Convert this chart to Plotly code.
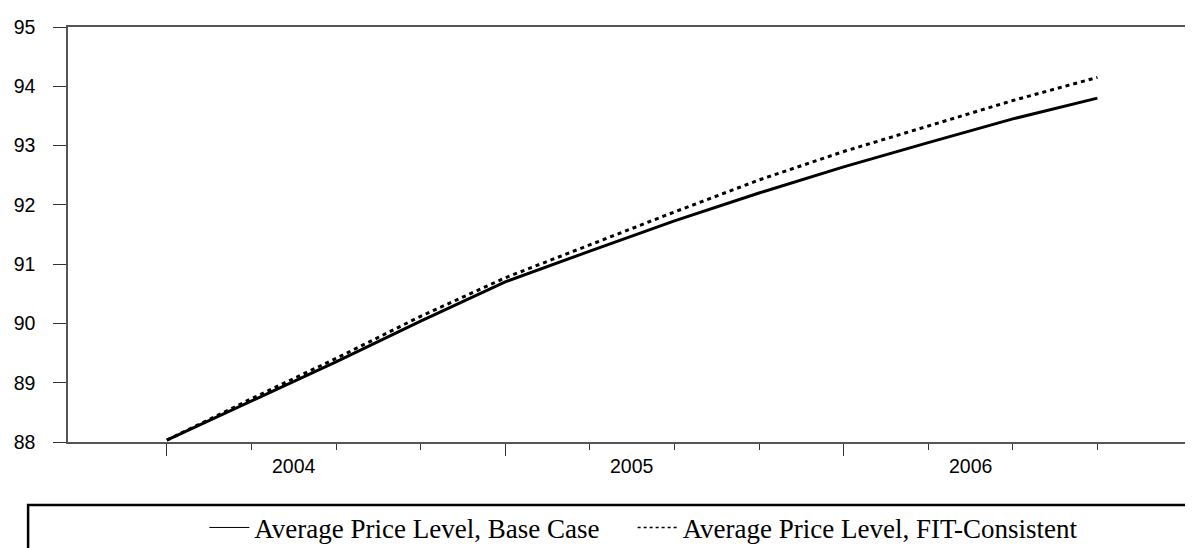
import plotly.graph_objects as go

# Quarterly periods 2004Q1 .. 2006Q4 (index positions on the x axis)
quarters = ["2004Q1", "2004Q2", "2004Q3", "2004Q4",
            "2005Q1", "2005Q2", "2005Q3", "2005Q4",
            "2006Q1", "2006Q2", "2006Q3", "2006Q4"]
base_case = [88.03, 88.69, 89.35, 90.04, 90.70, 91.22, 91.73, 92.20, 92.64, 93.05, 93.45, 93.80]
fit_consistent = [88.03, 88.73, 89.41, 90.12, 90.77, 91.33, 91.88, 92.42, 92.90, 93.33, 93.76, 94.15]
years = ["2004", "2005", "2006"]
y_ticks = [88, 89, 90, 91, 92, 93, 94, 95]

xi = list(range(len(quarters)))
year_pos = [sum(xi[k * 4:(k + 1) * 4]) / 4 for k in range(len(years))]
year_start = [xi[k * 4] for k in range(len(years))]

fig = go.Figure()
fig.add_trace(go.Scatter(x=xi, y=base_case, mode="lines", showlegend=False,
                         line=dict(color="black", width=3)))
fig.add_trace(go.Scatter(x=xi, y=fit_consistent, mode="lines", showlegend=False,
                         line=dict(color="black", width=3, dash="4px,4px")))
# legend-only entries (thin samples as in the original)
fig.add_trace(go.Scatter(x=[None], y=[None], mode="lines", name="Average Price Level, Base Case",
                         line=dict(color="black", width=1), legend="legend"))
fig.add_trace(go.Scatter(x=[None], y=[None], mode="lines", name="Average Price Level, FIT-Consistent",
                         line=dict(color="black", width=1.5, dash="dot"), legend="legend2"))

for yr, pos in zip(years, year_pos):
    fig.add_annotation(x=pos, y=-0.058, xref="x", yref="paper", text=yr, showarrow=False,
                       font=dict(family="Liberation Sans, Arial", size=19.5, color="black"),
                       yanchor="middle")

# legend frame (extends beyond the visible page as in the original)
fig.add_shape(type="rect", xref="paper", yref="paper", x0=-0.0354, x1=1.2, y0=-0.5, y1=-0.152,
              line=dict(color="black", width=2.5), fillcolor="rgba(0,0,0,0)")

legend_font = dict(family="Liberation Serif, Times New Roman", size=27, color="black")
fig.update_layout(
    width=1193, height=548,
    margin=dict(l=60, r=4, t=19, b=101),
    paper_bgcolor="white", plot_bgcolor="white",
    showlegend=True,
    legend=dict(orientation="h", x=0.121, y=-0.207, xanchor="left", yanchor="middle",
                font=legend_font, bgcolor="rgba(0,0,0,0)", itemwidth=40),
    legend2=dict(orientation="h", x=0.501, y=-0.207, xanchor="left", yanchor="middle",
                 font=legend_font, bgcolor="rgba(0,0,0,0)", itemwidth=40),
    xaxis=dict(range=[-1.168, 12.153], tickmode="array", tickvals=year_start,
               showticklabels=False, ticks="outside", ticklen=12, tickcolor="#333",
               tickwidth=1, showgrid=False, zeroline=False,
               showline=True, linecolor="#555", linewidth=1.5, mirror=True,
               minor=dict(tickmode="array", tickvals=xi, ticks="outside", ticklen=6,
                          tickcolor="#333", tickwidth=1, showgrid=False)),
    yaxis=dict(range=[88, 95], tickmode="array", tickvals=y_ticks, ticks="outside", ticklen=13,
               tickcolor="#333", tickwidth=1, showgrid=False, zeroline=False,
               showline=True, linecolor="#555", linewidth=1.5, mirror=True,
               ticklabelstandoff=14,
               tickfont=dict(family="Liberation Sans, Arial", size=19.5, color="black")),
)

fig.write_html("out.html")
